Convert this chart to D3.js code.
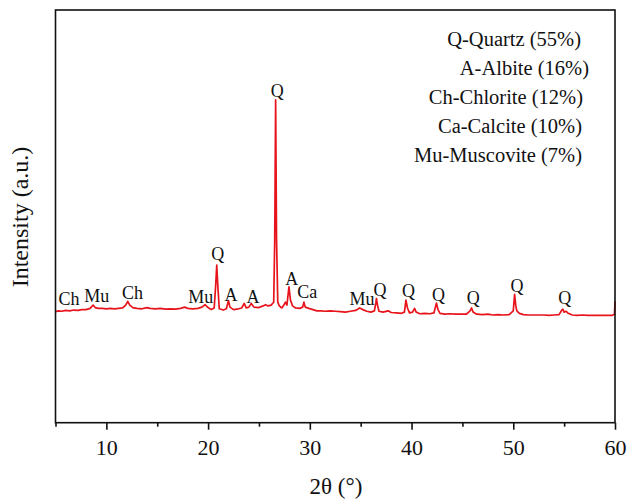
<!DOCTYPE html>
<html>
<head>
	<title>XRD pattern</title>
	<meta charset="utf-8">
	<script src="https://d3js.org/d3.v7.min.js"></script>
	<style>
		body { margin: 0; background: #fff; }
		text { font-family: "Liberation Serif", "Times New Roman", serif; fill: #111; }
	</style>
</head>
<body>
	<script type="text/javascript">
		var width = 629,
			height = 504;

		// 2theta (deg) and intensity (a.u.)
		var twoTheta = [5.0, 5.3, 5.6, 6.0, 6.4, 6.8, 7.2, 7.6, 8.0, 8.4, 8.7, 8.9, 9.2, 9.6, 10.0, 10.4, 10.8, 11.2, 11.6, 11.9,
			12.1, 12.3, 12.6, 13.0, 13.5, 14.0, 14.3, 14.8, 15.3, 15.8, 16.3, 16.8, 17.3, 17.7, 18.0, 18.5, 19.0, 19.4, 19.7, 20.0,
			20.3, 20.6, 20.75, 20.85, 20.95, 21.1, 21.5, 21.8, 22.0, 22.15, 22.5, 23.0, 23.3, 23.55, 23.75, 24.0, 24.25, 24.5, 25.0, 25.4,
			25.65, 25.9, 26.2, 26.45, 26.55, 26.64, 26.73, 26.85, 27.0, 27.25, 27.45, 27.6, 27.75, 27.95, 28.1, 28.3, 28.6, 29.0, 29.3, 29.42,
			29.55, 29.9, 30.3, 30.7, 31.1, 31.5, 32.0, 32.5, 33.0, 33.5, 34.0, 34.5, 34.9, 35.2, 35.6, 36.0, 36.35, 36.5, 36.55, 36.65,
			36.8, 37.2, 37.7, 38.0, 38.5, 39.0, 39.3, 39.45, 39.6, 39.8, 40.1, 40.3, 40.45, 40.8, 41.3, 41.8, 42.2, 42.45, 42.6, 42.8,
			43.3, 43.8, 44.3, 44.8, 45.4, 45.75, 45.9, 46.05, 46.4, 47.0, 47.5, 48.0, 48.5, 49.0, 49.6, 50.0, 50.13, 50.25, 50.35, 50.6,
			51.0, 51.5, 52.0, 52.5, 53.0, 53.5, 54.0, 54.5, 54.75, 54.88, 55.0, 55.2, 55.4, 55.8, 56.3, 56.8, 57.3, 57.8, 58.3, 58.8,
			59.3, 59.7, 59.95, 60.0];
		var intensity = [269, 271, 270, 272, 271, 273, 272, 274, 274, 277, 285, 279, 277, 277, 276, 277, 276, 277, 278, 285,
			294, 285, 279, 277, 276, 279, 277, 276, 277, 275, 276, 275, 277, 280, 277, 276, 277, 280, 286, 279,
			274, 278, 334, 382, 334, 276, 273, 276, 296, 280, 274, 276, 278, 289, 278, 280, 289, 280, 279, 283,
			286, 283, 285, 292, 443, 782, 443, 292, 283, 278, 285, 292, 285, 329, 297, 283, 278, 277, 280, 292,
			280, 277, 274, 271, 271, 270, 271, 270, 269, 268, 270, 272, 278, 274, 270, 268, 271, 292, 301, 285,
			270, 268, 271, 267, 266, 265, 268, 297, 278, 266, 268, 277, 268, 264, 265, 264, 266, 290, 274, 265,
			263, 264, 263, 263, 263, 271, 278, 268, 263, 262, 263, 261, 262, 261, 262, 271, 311, 283, 271, 265,
			262, 261, 261, 261, 261, 260, 261, 262, 272, 275, 268, 270, 265, 261, 260, 261, 260, 260, 260, 260,
			260, 260, 263, 294];

		// peak labels: phase code, 2theta and intensity of the label baseline
		var peakNames = ["Ch", "Mu", "Ch", "Mu", "Q", "A", "A", "Q", "A", "Ca", "Mu", "Q", "Q", "Q", "Q", "Q", "Q"];
		var peakTheta = [6.33, 9.05, 12.57, 19.29, 20.96, 22.26, 24.41, 26.79, 28.23, 29.74, 35.12, 36.89, 39.70, 42.65, 46.07, 50.37, 55.07];
		var peakLevel = [286, 293, 299, 289, 394, 295, 289, 789, 334, 301, 285, 306, 304, 295, 287, 317, 287];

		var legendLines = ["Q-Quartz (55%)", "A-Albite (16%)", "Ch-Chlorite (12%)", "Ca-Calcite (10%)", "Mu-Muscovite (7%)"];

		var majorTicks = [10, 20, 30, 40, 50, 60];
		var minorTicks = [5, 15, 25, 35, 45, 55];

		var plotL = 55.5, plotR = 615, plotT = 10, plotB = 422.7;

		var svg = d3.select("body").append("svg")
			.attr("width", width)
			.attr("height", height);

		var xScale = d3.scaleLinear().domain([5, 60]).range([plotL, plotR]);
		var yScale = d3.scaleLinear().domain([0, 1000]).range([plotB, plotT]);

		var points = twoTheta.map(function(t, i) { return [t, intensity[i]]; });

		var line = d3.line()
			.x(function(d) { return xScale(d[0]); })
			.y(function(d) { return yScale(d[1]); });

		svg.append("path")
			.datum(points)
			.attr("d", line)
			.attr("fill", "none")
			.attr("stroke", "#e8141c")
			.attr("stroke-width", 1.7)
			.attr("stroke-linejoin", "round");

		// frame
		svg.append("rect")
			.attr("x", plotL).attr("y", plotT)
			.attr("width", plotR - plotL).attr("height", plotB - plotT)
			.attr("fill", "none")
			.attr("stroke", "#111")
			.attr("stroke-width", 1.6);

		var xAxis = d3.axisBottom(xScale)
			.tickValues(majorTicks)
			.tickSize(7)
			.tickPadding(9.5)
			.tickFormat(d3.format("d"));

		var gx = svg.append("g")
			.attr("transform", "translate(0," + plotB + ")")
			.call(xAxis);
		gx.select(".domain").remove();
		gx.selectAll("line").attr("stroke", "#111").attr("stroke-width", 1.6);
		gx.selectAll("text")
			.style("font-family", "Liberation Serif, serif")
			.style("font-size", "22px")
			.attr("fill", "#111");

		var gm = svg.append("g")
			.attr("transform", "translate(0," + plotB + ")")
			.call(d3.axisBottom(xScale).tickValues(minorTicks).tickSize(4).tickFormat(""));
		gm.select(".domain").remove();
		gm.selectAll("line").attr("stroke", "#111").attr("stroke-width", 1.6);

		// axis titles
		svg.append("text")
			.attr("x", 336).attr("y", 494)
			.attr("text-anchor", "middle")
			.style("font-size", "23px")
			.text("2θ (°)");

		svg.append("text")
			.attr("transform", "translate(28,217) rotate(-90)")
			.attr("text-anchor", "middle")
			.style("font-size", "24px")
			.text("Intensity (a.u.)");

		// peak labels
		svg.selectAll(".peak")
			.data(peakNames)
			.enter()
			.append("text")
			.attr("class", "peak")
			.attr("x", function(d, i) { return xScale(peakTheta[i]); })
			.attr("y", function(d, i) { return yScale(peakLevel[i]); })
			.attr("text-anchor", "middle")
			.style("font-size", "18px")
			.text(function(d) { return d; });

		// legend
		var legendRight = [581, 589, 583, 582, 582];
		svg.selectAll(".legend")
			.data(legendLines)
			.enter()
			.append("text")
			.attr("class", "legend")
			.attr("x", function(d, i) { return legendRight[i]; })
			.attr("y", function(d, i) { return 46 + i * 29; })
			.attr("text-anchor", "end")
			.style("font-size", "20.5px")
			.text(function(d) { return d; });
	</script>
</body>
</html>
